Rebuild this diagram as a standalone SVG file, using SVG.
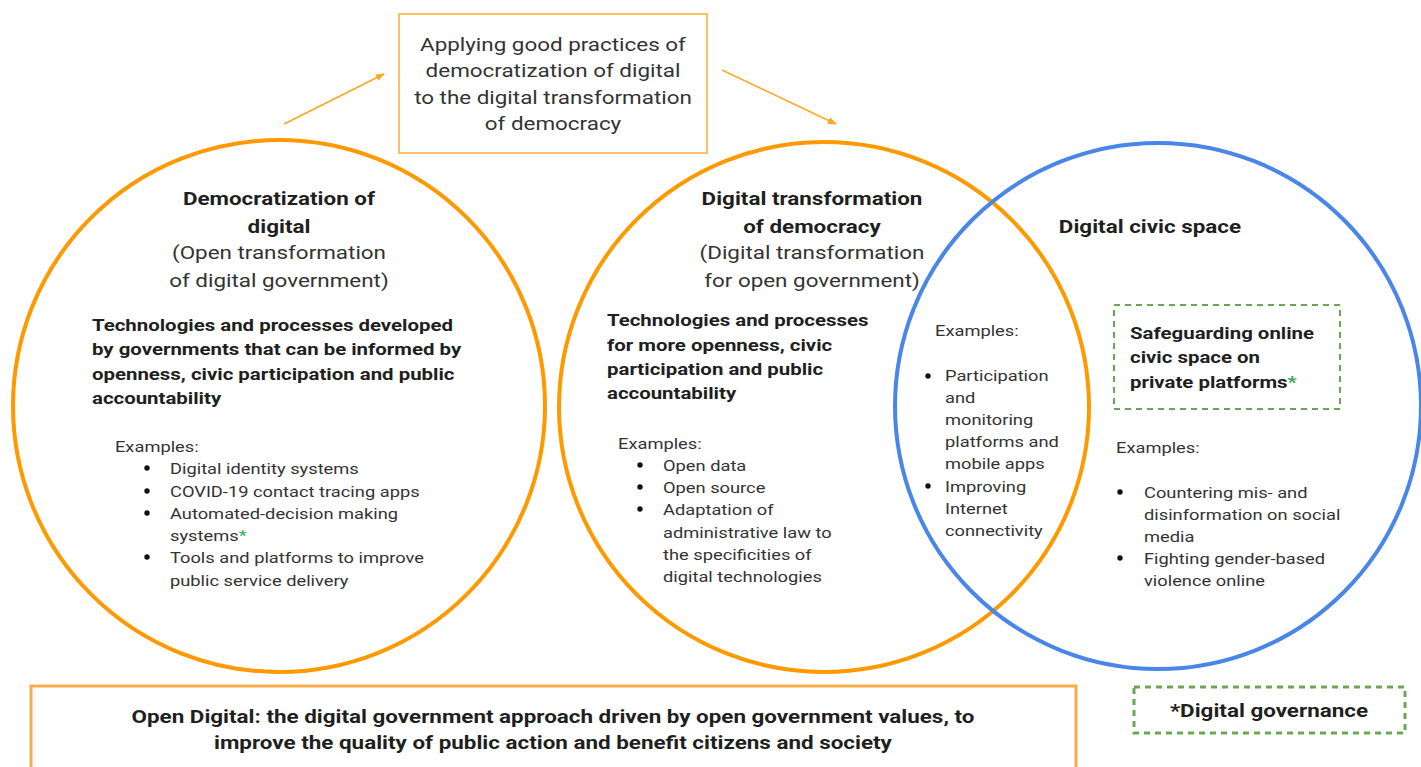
<svg xmlns="http://www.w3.org/2000/svg" width="1421" height="767" viewBox="0 0 1421 767">
  <defs>
    <style>
      text { font-family: Roboto, "Liberation Sans", sans-serif; fill: #1f1f1f; transform-box: fill-box; transform: scaleX(1.18); }
      text.l { transform-origin: 0% 50%; }
      text.c { transform-origin: 50% 50%; text-anchor: middle; }
      .ring-o { fill: none; stroke: #ff9900; stroke-width: 4; }
      .ring-b { fill: none; stroke: #4a86e8; stroke-width: 4; }
      .box-o { fill: #ffffff; stroke: #f9c06a; stroke-width: 2; }
      .box-banner { fill: #ffffff; stroke: #f7ad4a; stroke-width: 3; }
      .box-g { fill: none; stroke: #6aa84f; stroke-dasharray: 6 5; }
      .note { font-size: 19px; fill: #333; }
      .title { font-size: 19px; font-weight: bold; }
      .sub { font-size: 19px; fill: #333; }
      .lead { font-size: 17.3px; font-weight: bold; }
      .body { font-size: 15.5px; fill: #333; }
      .banner { font-size: 19px; font-weight: bold; }
      .star { fill: #34a853; }
      .dot { fill: #111; }
      .conn { stroke: #ffa726; stroke-width: 1.6; fill: none; marker-end: url(#head); }
    </style>
    <marker id="head" viewBox="0 0 10 10" refX="9" refY="5" markerWidth="9" markerHeight="9" orient="auto" markerUnits="userSpaceOnUse">
      <path d="M0,1 L10,5 L0,9 z" fill="#ffa726"/>
    </marker>
  </defs>

  <rect width="1421" height="767" fill="#ffffff"/>

  <!-- connectors -->
  <g id="connectors">
    <line class="conn" x1="284" y1="124" x2="384" y2="74"/>
    <line class="conn" x1="722" y1="70" x2="836" y2="124"/>
  </g>

  <!-- top: practice transfer -->
  <g id="practice">
    <rect class="box-o" x="399" y="14" width="308" height="139"/>
    <text class="note c" x="553" y="51">Applying good practices of</text>
    <text class="note c" x="553" y="77">democratization of digital</text>
    <text class="note c" x="553" y="104">to the digital transformation</text>
    <text class="note c" x="553" y="130">of democracy</text>
  </g>

  <!-- left circle -->
  <g id="democratization">
    <circle class="ring-o" cx="279" cy="406" r="266"/>
    <text class="title c" x="279" y="205">Democratization of</text>
    <text class="title c" x="279" y="233">digital</text>
    <text class="sub c" x="279" y="259">(Open transformation</text>
    <text class="sub c" x="279" y="287">of digital government)</text>
    <text class="lead l" x="92" y="331">Technologies and processes developed</text>
    <text class="lead l" x="92" y="355">by governments that can be informed by</text>
    <text class="lead l" x="92" y="380">openness, civic participation and public</text>
    <text class="lead l" x="92" y="404">accountability</text>
    <text class="body l" x="115" y="452">Examples:</text>
    <circle class="dot" cx="147" cy="468" r="2.7"/>
    <text class="body l" x="170" y="474">Digital identity systems</text>
    <circle class="dot" cx="147" cy="491" r="2.7"/>
    <text class="body l" x="170" y="497">COVID-19 contact tracing apps</text>
    <circle class="dot" cx="147" cy="513" r="2.7"/>
    <text class="body l" x="170" y="519">Automated-decision making</text>
    <text class="body l" x="170" y="541">systems<tspan class="star">*</tspan></text>
    <circle class="dot" cx="147" cy="557" r="2.7"/>
    <text class="body l" x="170" y="563">Tools and platforms to improve</text>
    <text class="body l" x="170" y="586">public service delivery</text>
  </g>

  <!-- middle circle -->
  <g id="transformation">
    <circle class="ring-o" cx="824" cy="407" r="265"/>
    <text class="title c" x="812" y="205">Digital transformation</text>
    <text class="title c" x="812" y="233">of democracy</text>
    <text class="sub c" x="812" y="259">(Digital transformation</text>
    <text class="sub c" x="812" y="287">for open government)</text>
    <text class="lead l" x="607" y="326">Technologies and processes</text>
    <text class="lead l" x="607" y="351">for more openness, civic</text>
    <text class="lead l" x="607" y="375">participation and public</text>
    <text class="lead l" x="607" y="399">accountability</text>
    <text class="body l" x="618" y="449">Examples:</text>
    <circle class="dot" cx="640" cy="465" r="2.7"/>
    <text class="body l" x="663" y="471">Open data</text>
    <circle class="dot" cx="640" cy="487" r="2.7"/>
    <text class="body l" x="663" y="493">Open source</text>
    <circle class="dot" cx="640" cy="509" r="2.7"/>
    <text class="body l" x="663" y="515">Adaptation of</text>
    <text class="body l" x="663" y="538">administrative law to</text>
    <text class="body l" x="663" y="560">the specificities of</text>
    <text class="body l" x="663" y="582">digital technologies</text>
  </g>

  <!-- right circle -->
  <g id="civic-space">
    <circle class="ring-b" cx="1158" cy="406" r="263"/>
    <text class="title c" x="1150" y="233">Digital civic space</text>
    <text class="body l" x="1116" y="453">Examples:</text>
    <circle class="dot" cx="1120" cy="492" r="2.7"/>
    <text class="body l" x="1144" y="498">Countering mis- and</text>
    <text class="body l" x="1144" y="520">disinformation on social</text>
    <text class="body l" x="1144" y="542">media</text>
    <circle class="dot" cx="1120" cy="558" r="2.7"/>
    <text class="body l" x="1144" y="564">Fighting gender-based</text>
    <text class="body l" x="1144" y="586">violence online</text>
  </g>

  <!-- overlap of middle and right circles -->
  <g id="overlap">
    <text class="body l" x="935" y="336">Examples:</text>
    <circle class="dot" cx="928" cy="376" r="2.7"/>
    <text class="body l" x="945" y="381">Participation</text>
    <text class="body l" x="945" y="403">and</text>
    <text class="body l" x="945" y="425">monitoring</text>
    <text class="body l" x="945" y="447">platforms and</text>
    <text class="body l" x="945" y="469">mobile apps</text>
    <circle class="dot" cx="928" cy="486" r="2.7"/>
    <text class="body l" x="945" y="492">Improving</text>
    <text class="body l" x="945" y="514">Internet</text>
    <text class="body l" x="945" y="536">connectivity</text>
  </g>

  <!-- governance item inside civic space -->
  <g id="safeguarding">
    <rect class="box-g" x="1114" y="305" width="226" height="104" stroke-width="2"/>
    <text class="lead l" x="1130" y="339">Safeguarding online</text>
    <text class="lead l" x="1130" y="363">civic space on</text>
    <text class="lead l" x="1130" y="388">private platforms<tspan class="star">*</tspan></text>
  </g>

  <!-- bottom banner -->
  <g id="open-digital">
    <rect class="box-banner" x="31" y="686" width="1045" height="100"/>
    <text class="banner c" x="553" y="723">Open Digital: the digital government approach driven by open government values, to</text>
    <text class="banner c" x="553" y="749">improve the quality of public action and benefit citizens and society</text>
  </g>

  <!-- legend -->
  <g id="legend">
    <rect class="box-g" x="1134" y="687" width="271" height="46" stroke-width="3" stroke-dasharray="10 7"/>
    <text class="banner c" x="1269" y="717">*Digital governance</text>
  </g>
</svg>
